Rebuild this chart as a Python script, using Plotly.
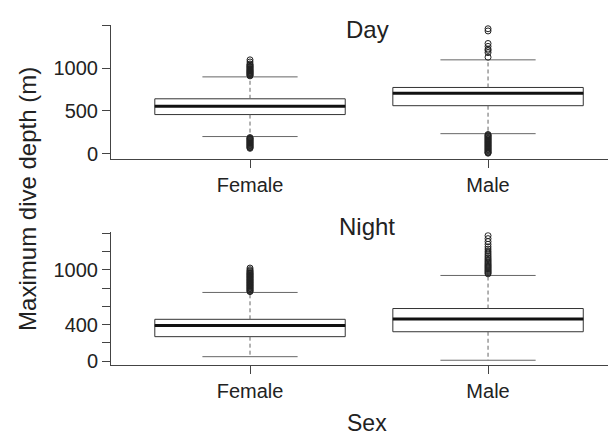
import plotly.graph_objects as go

# ---- data ----
categories = ["Female", "Male"]
cat_pos = [0, 1]

day_q1 = [458, 562]
day_median = [557, 707]
day_q3 = [643, 776]
day_lower_whisker = [200, 234]
day_upper_whisker = [900, 1100]
day_out_female = [912, 920, 928, 936, 944, 951, 958, 966, 973, 981, 990, 998, 1007, 1016,
                  1024, 1033, 1042, 1052, 1075, 1100,
                  188, 181, 174, 166, 158, 150, 142, 134, 126, 118, 110, 102, 94, 86, 78, 70, 62]
day_out_male = [1131, 1185, 1211, 1226, 1258, 1292, 1439, 1465,
                224, 216, 207, 198, 189, 180, 171, 162, 153, 144, 135, 126, 117, 108, 99, 90,
                81, 72, 63, 54, 45, 36, 27, 18, 10, 5]

night_q1 = [269, 323]
night_median = [390, 462]
night_q3 = [459, 577]
night_lower_whisker = [50, 11]
night_upper_whisker = [753, 939]
night_out_female = [762, 770, 778, 786, 794, 802, 810, 818, 826, 834, 842, 850, 858, 866, 874,
                    882, 890, 898, 906, 914, 922, 930, 938, 946, 954, 962, 970, 980, 990, 1002, 1020]
night_out_male = [957, 968, 979, 990, 1001, 1013, 1025, 1037, 1049, 1061, 1074, 1087, 1100,
                  1115, 1130, 1147, 1165, 1185, 1205, 1228, 1252, 1280, 1310, 1342, 1375]

day_ticks = [0, 500, 1000, 1500]
day_ticktext = ["0", "500", "1000", ""]
night_ticks = [0, 200, 400, 600, 800, 1000, 1200, 1400]
night_ticktext = ["0", "", "400", "", "", "1000", "", ""]

# ---- styles ----
FONT = "Liberation Sans, Arial, Helvetica, sans-serif"
BOX_W = 0.8
CAP_W = 0.4
BOX_COL = "#333333"
WH_COL = "#666666"
AX_COL = "#444444"
TXT = "#222222"

W, H = 616, 436
x_dom = [103 / W, 615 / W]
top_dom = [(H - 153) / H, (H - 17) / H]
bot_dom = [(H - 363) / H, (H - 228) / H]

fig = go.Figure()


def add_panel(xa, ya, q1, med, q3, lw, uw, outs):
    for i, pos in enumerate(cat_pos):
        fig.add_trace(go.Box(
            x=[pos], q1=[q1[i]], median=[med[i]], q3=[q3[i]],
            lowerfence=[q1[i]], upperfence=[q3[i]],
            width=BOX_W, fillcolor="white", line=dict(color=BOX_COL, width=1),
            boxpoints=False, whiskerwidth=0, hoverinfo="skip",
            xaxis=xa, yaxis=ya, showlegend=False))
        # whiskers (dashed)
        fig.add_trace(go.Scatter(
            x=[pos, pos, None, pos, pos], y=[q3[i], uw[i], None, q1[i], lw[i]],
            mode="lines", line=dict(color=WH_COL, width=1, dash="4px,3px"),
            xaxis=xa, yaxis=ya, showlegend=False, hoverinfo="skip"))
        # caps
        fig.add_trace(go.Scatter(
            x=[pos - CAP_W / 2, pos + CAP_W / 2, None, pos - CAP_W / 2, pos + CAP_W / 2],
            y=[uw[i], uw[i], None, lw[i], lw[i]],
            mode="lines", line=dict(color=WH_COL, width=1),
            xaxis=xa, yaxis=ya, showlegend=False, hoverinfo="skip"))
        # median
        fig.add_trace(go.Scatter(
            x=[pos - BOX_W / 2, pos + BOX_W / 2], y=[med[i], med[i]],
            mode="lines", line=dict(color="#111111", width=3),
            xaxis=xa, yaxis=ya, showlegend=False, hoverinfo="skip"))
        # outliers
        fig.add_trace(go.Scatter(
            x=[pos] * len(outs[i]), y=outs[i], mode="markers",
            marker=dict(symbol="circle-open", size=6, color="#222222", line=dict(width=1)),
            xaxis=xa, yaxis=ya, showlegend=False, hoverinfo="skip"))


add_panel("x", "y", day_q1, day_median, day_q3, day_lower_whisker, day_upper_whisker,
          [day_out_female, day_out_male])
add_panel("x2", "y2", night_q1, night_median, night_q3, night_lower_whisker,
          night_upper_whisker, [night_out_female, night_out_male])

xcommon = dict(range=[-0.584, 1.567], tickvals=cat_pos, ticktext=categories,
               showline=True, linecolor=AX_COL, linewidth=1, ticks="outside",
               ticklen=8, tickcolor=AX_COL, showgrid=False, zeroline=False,
               tickfont=dict(size=20, color=TXT, family=FONT), domain=x_dom)
ycommon = dict(showline=True, linecolor=AX_COL, linewidth=1, ticks="outside",
               ticklen=8, tickcolor=AX_COL, showgrid=False, zeroline=False,
               tickfont=dict(size=20, color=TXT, family=FONT))

fig.update_layout(
    width=W, height=H, margin=dict(l=0, r=0, t=0, b=0),
    paper_bgcolor="white", plot_bgcolor="white",
    font=dict(family=FONT, color=TXT),
    xaxis=dict(**xcommon, anchor="y"),
    xaxis2=dict(**xcommon, anchor="y2"),
    yaxis=dict(**ycommon, domain=top_dom, range=[-58, 1512], tickvals=day_ticks,
               ticktext=day_ticktext, anchor="x"),
    yaxis2=dict(**ycommon, domain=bot_dom, range=[-43, 1411], tickvals=night_ticks,
                ticktext=night_ticktext, anchor="x2"),
    annotations=[
        dict(text="Day", xref="x domain", yref="paper", x=0.5, y=(H - 22) / H,
             xanchor="center", yanchor="middle", showarrow=False,
             font=dict(size=24, color=TXT, family=FONT)),
        dict(text="Night", xref="x2 domain", yref="paper", x=0.5, y=(H - 222) / H,
             xanchor="center", yanchor="middle", showarrow=False,
             font=dict(size=24, color=TXT, family=FONT)),
        dict(text="Sex", xref="x2 domain", yref="paper", x=0.5, y=(H - 422) / H,
             xanchor="center", yanchor="middle", showarrow=False,
             font=dict(size=23, color=TXT, family=FONT)),
        dict(text="Maximum dive depth (m)", xref="paper", yref="paper",
             x=20 / W, y=(H - 194) / H, textangle=-90,
             xanchor="center", yanchor="middle", showarrow=False,
             font=dict(size=24, color=TXT, family=FONT)),
    ],
)

fig.write_html("out.html")
